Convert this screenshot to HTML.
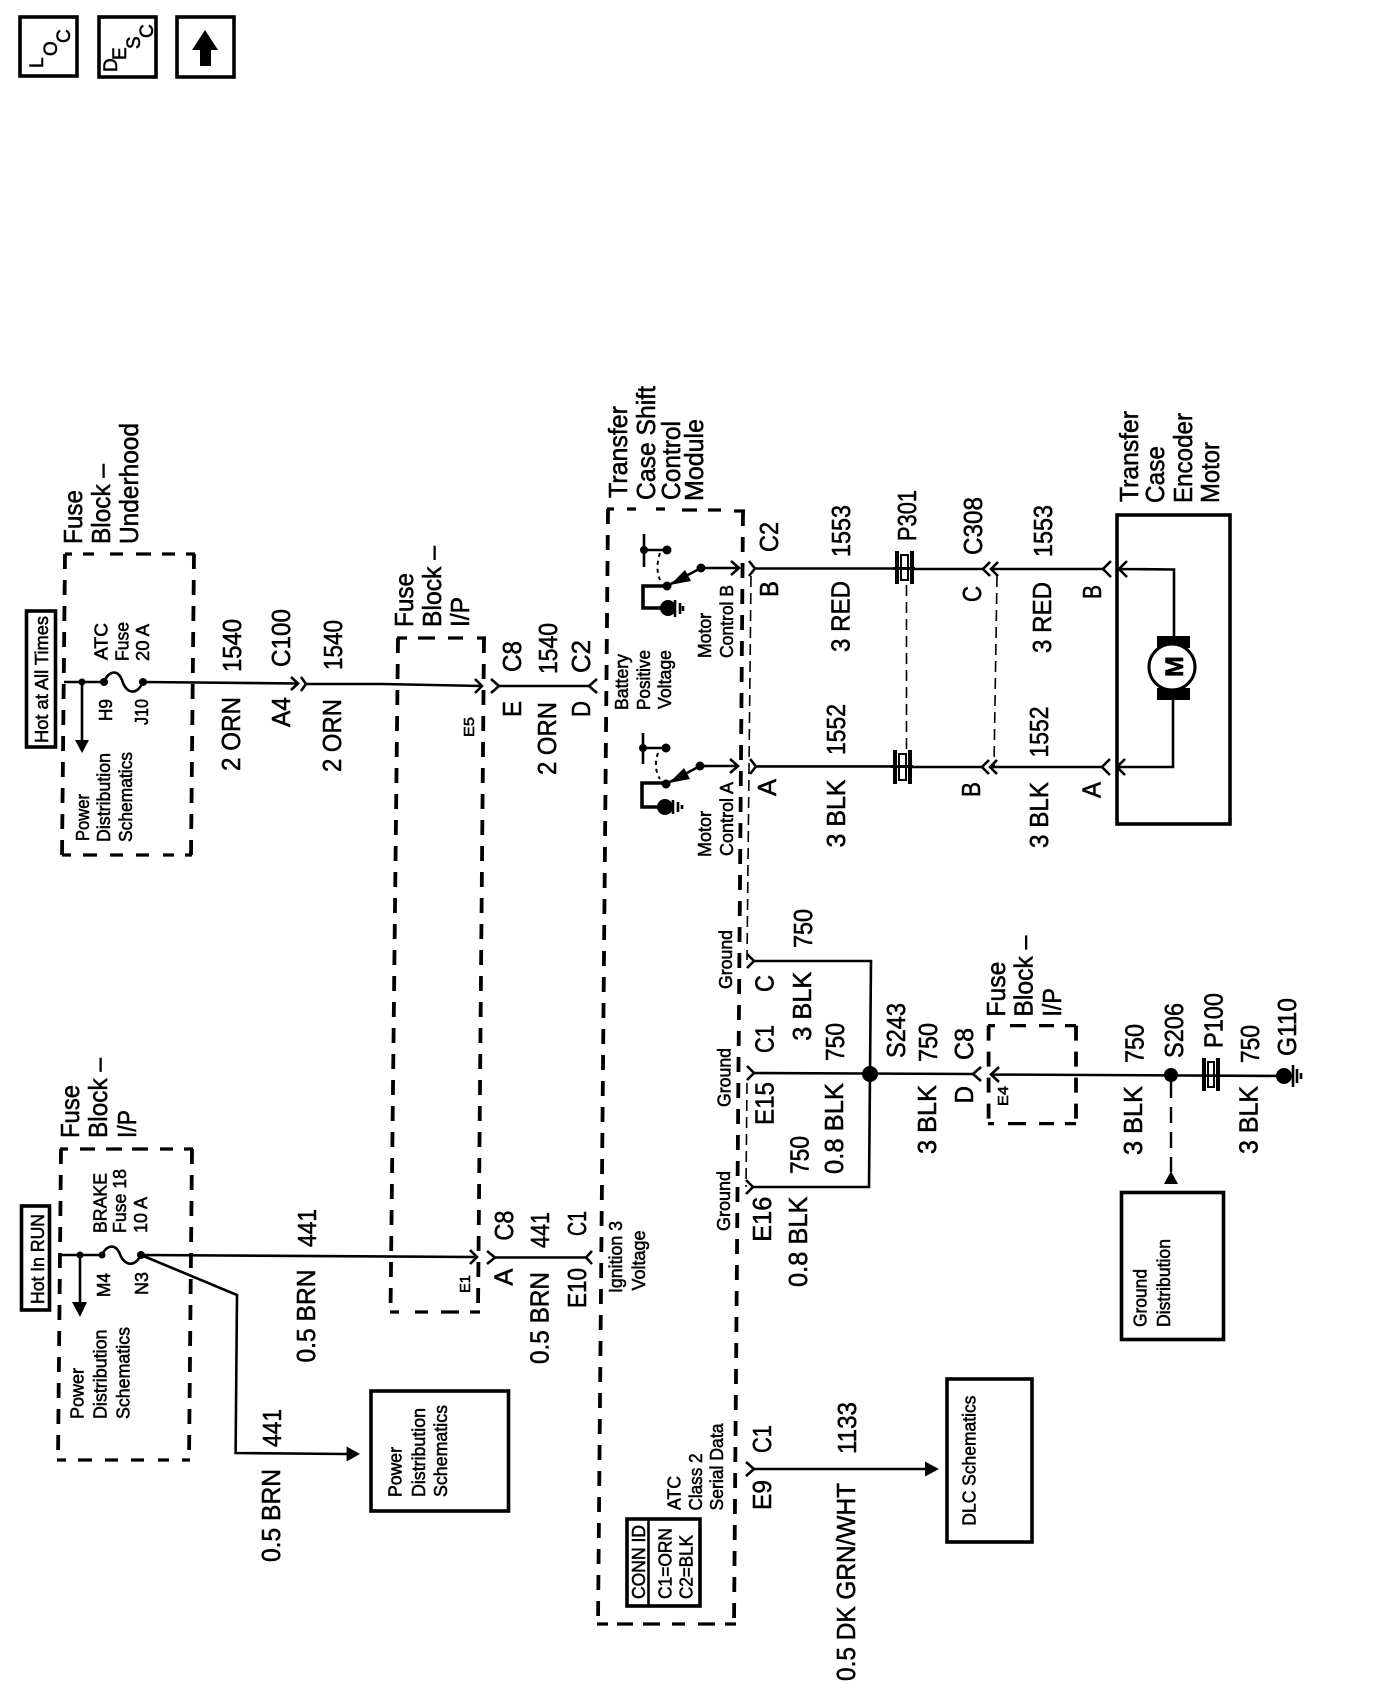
<!DOCTYPE html>
<html><head><meta charset="utf-8"><style>
html,body{margin:0;padding:0;background:#fff}
svg{display:block}
text{font-family:"Liberation Sans",sans-serif;fill:#000;stroke:#000;stroke-width:.55}
.a{font-size:26px}.b{font-size:18.5px}.c{font-size:15px}.d{font-size:19px}
.w{fill:none;stroke:#000;stroke-width:2.6}
.t{fill:none;stroke:#000;stroke-width:2.2}
.k{fill:none;stroke:#000;stroke-width:3.6}
.h{fill:none;stroke:#000;stroke-width:3.8;stroke-dasharray:15 11}
.s{fill:none;stroke:#000;stroke-width:3.2}
.n{fill:none;stroke:#000;stroke-width:1.6;stroke-dasharray:11 6}
</style></head><body>
<svg width="1376" height="1688" viewBox="0 0 1376 1688" xmlns="http://www.w3.org/2000/svg">
<rect width="1376" height="1688" fill="#fff"/>
<!-- top buttons -->
<rect class="k" x="20" y="17" width="57" height="59"/>
<rect class="k" x="99" y="17" width="57" height="60"/>
<rect class="k" x="177" y="17" width="57" height="60"/>
<polygon points="205,30 218,50 211,50 211,66 200,66 200,50 192,50"/>
<text class="d" transform="translate(43 68) rotate(-90)">L</text>
<text class="d" transform="translate(57 56) rotate(-90)">O</text>
<text class="d" transform="translate(70 43) rotate(-90)">C</text>
<text class="d" transform="translate(117 72) rotate(-90)">D</text>
<text class="d" transform="translate(126 60) rotate(-90)">E</text>
<text class="d" transform="translate(140 49) rotate(-90)">S</text>
<text class="d" transform="translate(153 38) rotate(-90)">C</text>

<!-- dashed boxes: Fuse Block Underhood -->
<path class="s" d="M65,554h7 M83,554h11 M110,554h13 M136,554h15 M162,554h13 M186,554h9"/>
<path class="s" d="M62,855h9 M83,855h14 M110,855h13 M136,855h13 M163,855h11 M185,855h7"/>
<path class="h" d="M65,554 L62,855"/>
<path class="h" d="M194,554 L191,855"/>
<!-- Fuse Block I/P lower -->
<path class="s" d="M60,1149h8 M80,1149h15 M106,1149h16 M132,1149h16 M160,1149h13 M184,1149h9"/>
<path class="s" d="M57,1460h9 M78,1460h14 M105,1460h13 M131,1460h13 M158,1460h11 M182,1460h8"/>
<path class="h" d="M61,1149 L58,1460"/>
<path class="h" d="M192,1149 L189,1460"/>
<!-- Fuse Block I/P upper -->
<path class="s" d="M397,638h10 M418,638h17 M448,638h15 M477,638h9"/>
<path class="s" d="M390,1312h9 M415,1312h13 M441,1312h18 M470,1312h10"/>
<path class="h" d="M398,638 L390.500,1312"/>
<path class="h" d="M484,638 L478,1312"/>
<!-- Module -->
<path class="s" d="M607,509h7 M627,509h9 M656,509h9 M682,510h15 M708,510h13 M734,511h11"/>
<path class="s" d="M597,1624h11 M617,1624h16 M643,1624h17 M672,1624h13 M698,1624h17 M725,1624h11"/>
<path class="h" d="M608,509 L598,1624"/>
<path class="h" d="M743,511 L734,1624"/>
<!-- Fuse Block I/P E4 -->
<path class="s" d="M988,1025.600h7 M1010,1025.600h16 M1039,1025.600h15 M1065,1025.600h11"/>
<path class="s" d="M988,1123.600h6 M1008,1123.600h18 M1039,1123.600h15 M1065,1123.600h11"/>
<path class="h" d="M988.600,1025.600 L988.600,1123.600"/>
<path class="h" d="M1076,1025.600 L1076,1123.600"/>

<!-- thin shells -->
<path class="n" d="M751,576 L747,960"/>
<path class="n" d="M747,1083 L746,1187"/>
<path class="n" d="M906.500,585 L906.500,750"/>
<path class="n" d="M997,576 L994,767"/>

<!-- fuse 1540 row -->
<path class="w" d="M64,682 L104,682 C108,672 117,668 122,680 C126,694 137,696 143,682 L298,683.500"/>
<path class="w" d="M82,682 L82,742"/>
<polygon points="75,740 89,740 82,753"/>
<circle cx="82" cy="682" r="3.500"/><circle cx="104" cy="682" r="4"/><circle cx="143" cy="682" r="4"/>
<path class="w" d="M291,677 L298,683.500 L291,690"/>
<path class="w" d="M301,677 L306,684 L301,691"/>
<path class="w" d="M306,684 L382,684 L482,686"/>
<path class="w" d="M475,679 L482,686 L475,693"/>
<path class="w" d="M491,679 L499,686 L491,693 M499,686 L589,686 L597,679 M589,686 L597,693"/>

<!-- brake row -->
<path class="w" d="M60,1255 L102,1255 C106,1246 114,1243 119,1252 C124,1266 134,1268 141,1255 L477,1257"/>
<path class="w" d="M80,1255 L80,1305"/>
<polygon points="72,1302 87,1302 80,1317"/>
<circle cx="80" cy="1255" r="3.500"/><circle cx="102" cy="1255" r="3.500"/><circle cx="141" cy="1255" r="4"/>
<path class="w" d="M470,1250 L477,1257 L470,1264"/>
<path class="w" d="M487,1251 L495,1257.500 L487,1264 M495,1257.500 L586,1257.500 L592,1251 M586,1257.500 L592,1264"/>
<path class="w" d="M141,1255 L237,1295 L235.600,1453 L347,1454"/>
<polygon points="346.600,1446.500 360,1454 346.600,1461.500"/>
<rect class="k" x="371" y="1391" width="137.500" height="120"/>

<!-- module switches -->
<path class="w" d="M644,534 L644,567 M644,550 L667,550"/>
<circle cx="644" cy="550" r="4"/><circle cx="667" cy="550" r="4.500"/>
<path d="M660,553 Q655,568 660,580" fill="none" stroke="#000" stroke-width="2" stroke-dasharray="4 4"/>
<path class="w" d="M667,586 L701,568 L738,568"/>
<polygon points="670,585 685,570 691,581"/>
<circle cx="667" cy="586" r="4.500"/><circle cx="701" cy="568" r="4.500"/>
<path class="w" d="M731,561 L739,568 L731,575"/>
<path class="k" d="M667,586 L643,586 L643,608 L662,608"/>
<circle cx="668" cy="608" r="8"/>
<path class="w" d="M675,600 L675,617 M680,603 L680,614 M683,606 L683,611"/>

<path class="w" d="M643,733 L643,764 M643,748 L666,748"/>
<circle cx="643" cy="748" r="4"/><circle cx="666" cy="748" r="4.500"/>
<path d="M658,753 Q653,768 660,779" fill="none" stroke="#000" stroke-width="2" stroke-dasharray="4 4"/>
<path class="w" d="M666,784 L700,766 L737,766"/>
<polygon points="669,783 684,768 690,779"/>
<circle cx="666" cy="784" r="4.500"/><circle cx="700" cy="766" r="4.500"/>
<path class="w" d="M730,759 L738,766 L730,773"/>
<path class="k" d="M666,783 L642,783 L642,807 L660,807"/>
<circle cx="665" cy="807" r="8"/>
<path class="w" d="M673,800 L673,814 M678,802 L678,812 M682,805 L682,809"/>

<!-- B row -->
<path class="w" d="M749,561 L755,568.500 L749,576 M755,568.500 L896,568.500"/>
<path class="w" d="M914,569 L983,569"/>
<path class="w" d="M990,562 L983,569 L990,576 M998,562 L991,569 L998,576 M991,569 L1103,569"/>
<path class="w" d="M1111,561 L1103,569 L1111,577"/>
<path class="w" d="M1127,561 L1119,569 L1127,577 M1119,569 L1174,569.500 L1174,636"/>
<!-- A row -->
<path class="w" d="M750,759 L756,766.400 L750,774 M756,766.400 L894,766.400"/>
<path class="w" d="M912,767 L982,767"/>
<path class="w" d="M989,760 L982,767 L989,774 M997,760 L990,767 L997,774 M990,767 L1102,767"/>
<path class="w" d="M1110,759 L1102,767 L1110,775"/>
<path class="w" d="M1125,759 L1117,767 L1125,775 M1117,767 L1173,767 L1173,700"/>
<!-- plugs -->
<rect x="895" y="551" width="4" height="33"/><rect x="910" y="551" width="4" height="33"/>
<rect x="901" y="555" width="7" height="25" fill="none" stroke="#000" stroke-width="2"/>
<rect x="893" y="567" width="22" height="3"/>
<rect x="893" y="750" width="4" height="34"/><rect x="908" y="750" width="4" height="34"/>
<rect x="899" y="754" width="7" height="26" fill="none" stroke="#000" stroke-width="2"/>
<rect x="891" y="765" width="22" height="3"/>
<rect x="1202" y="1058" width="4" height="33"/><rect x="1216" y="1058" width="4" height="33"/>
<rect x="1208" y="1062" width="6" height="25" fill="none" stroke="#000" stroke-width="2"/>

<!-- motor -->
<rect class="k" x="1117" y="515" width="113" height="309"/>
<rect x="1157" y="636" width="33" height="12"/><rect x="1157" y="688" width="33" height="12"/>
<circle cx="1172" cy="667" r="23" fill="#fff" stroke="#000" stroke-width="3"/>
<text transform="translate(1183 677) rotate(-90)" style="font-size:25px;font-weight:bold">M</text>

<!-- ground wiring -->
<path class="w" d="M747,954 L754,961 L747,968 M754,961 L871,961 L869,1187 L753,1187"/>
<path class="w" d="M746,1180 L753,1187 L746,1194"/>
<path class="w" d="M747,1066 L754,1073 L747,1080 M754,1073 L973,1074"/>
<path class="w" d="M973,1074 L981,1067 M973,1074 L981,1081"/>
<path class="w" d="M999,1067 L991,1074.500 L999,1082 M991,1074.500 L1293,1076"/>
<circle cx="870" cy="1074" r="8"/><circle cx="1171" cy="1075" r="7"/><circle cx="1284" cy="1076" r="8"/>
<path class="w" d="M1293,1065 L1293,1087 M1297,1069 L1297,1083 M1301,1073 L1301,1079"/>
<path d="M1171,1082 L1171,1172" fill="none" stroke="#000" stroke-width="2.400" stroke-dasharray="16 9"/>
<polygon points="1171,1171 1178,1184 1164,1184"/>
<rect class="k" x="1121.500" y="1192.500" width="102" height="147"/>
<!-- DLC -->
<path class="w" d="M746,1462 L754,1469 L746,1476 M754,1469 L926,1469"/>
<polygon points="925,1461.500 939,1469 925,1476.500"/>
<rect class="k" x="947" y="1379" width="85" height="163"/>
<!-- conn id -->
<rect class="k" x="627" y="1519" width="73" height="87"/>
<path class="w" d="M648.500,1519 L648.500,1606"/>
<rect class="k" x="26.500" y="611" width="29" height="136"/>
<rect class="k" x="21.500" y="1206" width="28" height="104"/>

<!-- labels -->
<g class="a">
<text transform="translate(82 544) rotate(-90)" textLength="54" lengthAdjust="spacingAndGlyphs">Fuse</text>
<text transform="translate(110 544) rotate(-90)" textLength="80" lengthAdjust="spacingAndGlyphs">Block –</text>
<text transform="translate(138 544) rotate(-90)" textLength="121" lengthAdjust="spacingAndGlyphs">Underhood</text>
<text transform="translate(241 672) rotate(-90)" textLength="53" lengthAdjust="spacingAndGlyphs">1540</text>
<text transform="translate(240 771) rotate(-90)" textLength="74" lengthAdjust="spacingAndGlyphs">2 ORN</text>
<text transform="translate(290 667) rotate(-90)" textLength="58" lengthAdjust="spacingAndGlyphs">C100</text>
<text transform="translate(290 727) rotate(-90)" textLength="30" lengthAdjust="spacingAndGlyphs">A4</text>
<text transform="translate(342 670) rotate(-90)" textLength="50" lengthAdjust="spacingAndGlyphs">1540</text>
<text transform="translate(341 772) rotate(-90)" textLength="73" lengthAdjust="spacingAndGlyphs">2 ORN</text>
<text transform="translate(413 627) rotate(-90)" textLength="54" lengthAdjust="spacingAndGlyphs">Fuse</text>
<text transform="translate(441 627) rotate(-90)" textLength="81" lengthAdjust="spacingAndGlyphs">Block –</text>
<text transform="translate(469 627) rotate(-90)" textLength="30" lengthAdjust="spacingAndGlyphs">I/P</text>
<text transform="translate(521 717) rotate(-90)" textLength="16" lengthAdjust="spacingAndGlyphs">E</text>
<text transform="translate(521 672) rotate(-90)" textLength="31" lengthAdjust="spacingAndGlyphs">C8</text>
<text transform="translate(557 674) rotate(-90)" textLength="51" lengthAdjust="spacingAndGlyphs">1540</text>
<text transform="translate(556 775) rotate(-90)" textLength="73" lengthAdjust="spacingAndGlyphs">2 ORN</text>
<text transform="translate(590 673) rotate(-90)" textLength="33" lengthAdjust="spacingAndGlyphs">C2</text>
<text transform="translate(590 717) rotate(-90)" textLength="16" lengthAdjust="spacingAndGlyphs">D</text>
<text transform="translate(627 498) rotate(-90)" textLength="92" lengthAdjust="spacingAndGlyphs">Transfer</text>
<text transform="translate(655 500) rotate(-90)" textLength="114" lengthAdjust="spacingAndGlyphs">Case Shift</text>
<text transform="translate(680 500) rotate(-90)" textLength="79" lengthAdjust="spacingAndGlyphs">Control</text>
<text transform="translate(703 501) rotate(-90)" textLength="82" lengthAdjust="spacingAndGlyphs">Module</text>
<text transform="translate(778 552) rotate(-90)" textLength="30" lengthAdjust="spacingAndGlyphs">C2</text>
<text transform="translate(778 597) rotate(-90)" textLength="16" lengthAdjust="spacingAndGlyphs">B</text>
<text transform="translate(776 796) rotate(-90)" textLength="17" lengthAdjust="spacingAndGlyphs">A</text>
<text transform="translate(850 557) rotate(-90)" textLength="52" lengthAdjust="spacingAndGlyphs">1553</text>
<text transform="translate(849.500 652) rotate(-90)" textLength="71" lengthAdjust="spacingAndGlyphs">3 RED</text>
<text transform="translate(845 755) rotate(-90)" textLength="51" lengthAdjust="spacingAndGlyphs">1552</text>
<text transform="translate(845 847.500) rotate(-90)" textLength="68" lengthAdjust="spacingAndGlyphs">3 BLK</text>
<text transform="translate(916 541) rotate(-90)" textLength="51" lengthAdjust="spacingAndGlyphs">P301</text>
<text transform="translate(982 555) rotate(-90)" textLength="58" lengthAdjust="spacingAndGlyphs">C308</text>
<text transform="translate(981 602) rotate(-90)" textLength="16" lengthAdjust="spacingAndGlyphs">C</text>
<text transform="translate(980 797) rotate(-90)" textLength="15" lengthAdjust="spacingAndGlyphs">B</text>
<text transform="translate(1052 557) rotate(-90)" textLength="52" lengthAdjust="spacingAndGlyphs">1553</text>
<text transform="translate(1051 653) rotate(-90)" textLength="71" lengthAdjust="spacingAndGlyphs">3 RED</text>
<text transform="translate(1048 757.500) rotate(-90)" textLength="51" lengthAdjust="spacingAndGlyphs">1552</text>
<text transform="translate(1048 848) rotate(-90)" textLength="66" lengthAdjust="spacingAndGlyphs">3 BLK</text>
<text transform="translate(1101 599) rotate(-90)" textLength="14" lengthAdjust="spacingAndGlyphs">B</text>
<text transform="translate(1100.500 798) rotate(-90)" textLength="16" lengthAdjust="spacingAndGlyphs">A</text>
<text transform="translate(1138 502) rotate(-90)" textLength="91" lengthAdjust="spacingAndGlyphs">Transfer</text>
<text transform="translate(1164 503) rotate(-90)" textLength="57" lengthAdjust="spacingAndGlyphs">Case</text>
<text transform="translate(1192 503) rotate(-90)" textLength="90" lengthAdjust="spacingAndGlyphs">Encoder</text>
<text transform="translate(1219 503) rotate(-90)" textLength="61" lengthAdjust="spacingAndGlyphs">Motor</text>

<text transform="translate(79 1138) rotate(-90)" textLength="53" lengthAdjust="spacingAndGlyphs">Fuse</text>
<text transform="translate(107 1138) rotate(-90)" textLength="80" lengthAdjust="spacingAndGlyphs">Block –</text>
<text transform="translate(136 1138) rotate(-90)" textLength="28" lengthAdjust="spacingAndGlyphs">I/P</text>
<text transform="translate(316 1247) rotate(-90)" textLength="38" lengthAdjust="spacingAndGlyphs">441</text>
<text transform="translate(315 1362.500) rotate(-90)" textLength="93" lengthAdjust="spacingAndGlyphs">0.5 BRN</text>
<text transform="translate(281 1447) rotate(-90)" textLength="38" lengthAdjust="spacingAndGlyphs">441</text>
<text transform="translate(280 1562) rotate(-90)" textLength="93" lengthAdjust="spacingAndGlyphs">0.5 BRN</text>
<text transform="translate(513 1240.600) rotate(-90)" textLength="30" lengthAdjust="spacingAndGlyphs">C8</text>
<text transform="translate(512.500 1285.600) rotate(-90)" textLength="17" lengthAdjust="spacingAndGlyphs">A</text>
<text transform="translate(549 1248) rotate(-90)" textLength="36" lengthAdjust="spacingAndGlyphs">441</text>
<text transform="translate(548.500 1364) rotate(-90)" textLength="92" lengthAdjust="spacingAndGlyphs">0.5 BRN</text>
<text transform="translate(586 1236) rotate(-90)" textLength="25" lengthAdjust="spacingAndGlyphs">C1</text>
<text transform="translate(586 1308) rotate(-90)" textLength="40" lengthAdjust="spacingAndGlyphs">E10</text>

<text transform="translate(773.600 992) rotate(-90)" textLength="17" lengthAdjust="spacingAndGlyphs">C</text>
<text transform="translate(773.600 1053) rotate(-90)" textLength="28" lengthAdjust="spacingAndGlyphs">C1</text>
<text transform="translate(773.600 1125) rotate(-90)" textLength="43" lengthAdjust="spacingAndGlyphs">E15</text>
<text transform="translate(771 1241.700) rotate(-90)" textLength="45" lengthAdjust="spacingAndGlyphs">E16</text>
<text transform="translate(812 948) rotate(-90)" textLength="39" lengthAdjust="spacingAndGlyphs">750</text>
<text transform="translate(811 1040.700) rotate(-90)" textLength="69" lengthAdjust="spacingAndGlyphs">3 BLK</text>
<text transform="translate(844 1061) rotate(-90)" textLength="38" lengthAdjust="spacingAndGlyphs">750</text>
<text transform="translate(843 1174) rotate(-90)" textLength="91" lengthAdjust="spacingAndGlyphs">0.8 BLK</text>
<text transform="translate(808.700 1174) rotate(-90)" textLength="38" lengthAdjust="spacingAndGlyphs">750</text>
<text transform="translate(807 1287) rotate(-90)" textLength="90.500" lengthAdjust="spacingAndGlyphs">0.8 BLK</text>
<text transform="translate(905 1058) rotate(-90)" textLength="55" lengthAdjust="spacingAndGlyphs">S243</text>
<text transform="translate(937 1062) rotate(-90)" textLength="39" lengthAdjust="spacingAndGlyphs">750</text>
<text transform="translate(936 1154) rotate(-90)" textLength="69" lengthAdjust="spacingAndGlyphs">3 BLK</text>
<text transform="translate(973 1060) rotate(-90)" textLength="32" lengthAdjust="spacingAndGlyphs">C8</text>
<text transform="translate(973 1103.500) rotate(-90)" textLength="17.500" lengthAdjust="spacingAndGlyphs">D</text>
<text transform="translate(1005 1016.600) rotate(-90)" textLength="55" lengthAdjust="spacingAndGlyphs">Fuse</text>
<text transform="translate(1032.500 1016.600) rotate(-90)" textLength="81" lengthAdjust="spacingAndGlyphs">Block –</text>
<text transform="translate(1061 1016.600) rotate(-90)" textLength="28.500" lengthAdjust="spacingAndGlyphs">I/P</text>
<text transform="translate(1143.500 1063) rotate(-90)" textLength="39" lengthAdjust="spacingAndGlyphs">750</text>
<text transform="translate(1142 1155) rotate(-90)" textLength="69" lengthAdjust="spacingAndGlyphs">3 BLK</text>
<text transform="translate(1183 1058) rotate(-90)" textLength="55" lengthAdjust="spacingAndGlyphs">S206</text>
<text transform="translate(1222.500 1048) rotate(-90)" textLength="55" lengthAdjust="spacingAndGlyphs">P100</text>
<text transform="translate(1259 1063) rotate(-90)" textLength="38" lengthAdjust="spacingAndGlyphs">750</text>
<text transform="translate(1257.500 1154) rotate(-90)" textLength="68" lengthAdjust="spacingAndGlyphs">3 BLK</text>
<text transform="translate(1296 1056) rotate(-90)" textLength="58" lengthAdjust="spacingAndGlyphs">G110</text>
<text transform="translate(771 1510) rotate(-90)" textLength="30" lengthAdjust="spacingAndGlyphs">E9</text>
<text transform="translate(771 1453) rotate(-90)" textLength="28" lengthAdjust="spacingAndGlyphs">C1</text>
<text transform="translate(856 1454) rotate(-90)" textLength="52" lengthAdjust="spacingAndGlyphs">1133</text>
<text transform="translate(855 1681) rotate(-90)" textLength="198" lengthAdjust="spacingAndGlyphs">0.5 DK GRN/WHT</text>
</g>
<g class="b">
<text transform="translate(48 743) rotate(-90)" textLength="127" lengthAdjust="spacingAndGlyphs">Hot at All Times</text>
<text transform="translate(107.500 660) rotate(-90)" textLength="37" lengthAdjust="spacingAndGlyphs">ATC</text>
<text transform="translate(128.500 661) rotate(-90)" textLength="39" lengthAdjust="spacingAndGlyphs">Fuse</text>
<text transform="translate(149 661) rotate(-90)" textLength="37" lengthAdjust="spacingAndGlyphs">20 A</text>
<text transform="translate(112 721) rotate(-90)" textLength="22" lengthAdjust="spacingAndGlyphs">H9</text>
<text transform="translate(148 725) rotate(-90)" textLength="26" lengthAdjust="spacingAndGlyphs">J10</text>
<text transform="translate(89 841) rotate(-90)" textLength="47" lengthAdjust="spacingAndGlyphs">Power</text>
<text transform="translate(110 842) rotate(-90)" textLength="89" lengthAdjust="spacingAndGlyphs">Distribution</text>
<text transform="translate(132 842) rotate(-90)" textLength="90" lengthAdjust="spacingAndGlyphs">Schematics</text>
<text transform="translate(628 710) rotate(-90)" textLength="56" lengthAdjust="spacingAndGlyphs">Battery</text>
<text transform="translate(650 710) rotate(-90)" textLength="60" lengthAdjust="spacingAndGlyphs">Positive</text>
<text transform="translate(671 709) rotate(-90)" textLength="59" lengthAdjust="spacingAndGlyphs">Voltage</text>
<text transform="translate(711 658) rotate(-90)" textLength="45" lengthAdjust="spacingAndGlyphs">Motor</text>
<text transform="translate(733 658) rotate(-90)" textLength="73" lengthAdjust="spacingAndGlyphs">Control B</text>
<text transform="translate(711 857) rotate(-90)" textLength="46" lengthAdjust="spacingAndGlyphs">Motor</text>
<text transform="translate(733 856) rotate(-90)" textLength="74" lengthAdjust="spacingAndGlyphs">Control A</text>
<text transform="translate(44 1304) rotate(-90)" textLength="90" lengthAdjust="spacingAndGlyphs">Hot In RUN</text>
<text transform="translate(106.600 1233) rotate(-90)" textLength="60" lengthAdjust="spacingAndGlyphs">BRAKE</text>
<text transform="translate(126 1233) rotate(-90)" textLength="64" lengthAdjust="spacingAndGlyphs">Fuse 18</text>
<text transform="translate(147 1233) rotate(-90)" textLength="36" lengthAdjust="spacingAndGlyphs">10 A</text>
<text transform="translate(110 1297) rotate(-90)" textLength="24" lengthAdjust="spacingAndGlyphs">M4</text>
<text transform="translate(148 1295) rotate(-90)" textLength="23" lengthAdjust="spacingAndGlyphs">N3</text>
<text transform="translate(83.400 1419) rotate(-90)" textLength="51" lengthAdjust="spacingAndGlyphs">Power</text>
<text transform="translate(106.600 1419) rotate(-90)" textLength="89.500" lengthAdjust="spacingAndGlyphs">Distribution</text>
<text transform="translate(129.400 1419) rotate(-90)" textLength="92" lengthAdjust="spacingAndGlyphs">Schematics</text>
<text transform="translate(401.500 1497) rotate(-90)" textLength="50" lengthAdjust="spacingAndGlyphs">Power</text>
<text transform="translate(425 1497) rotate(-90)" textLength="89" lengthAdjust="spacingAndGlyphs">Distribution</text>
<text transform="translate(447 1497) rotate(-90)" textLength="92" lengthAdjust="spacingAndGlyphs">Schematics</text>
<text transform="translate(622 1293) rotate(-90)" textLength="72" lengthAdjust="spacingAndGlyphs">Ignition 3</text>
<text transform="translate(645 1290.500) rotate(-90)" textLength="60" lengthAdjust="spacingAndGlyphs">Voltage</text>
<text transform="translate(680.700 1510) rotate(-90)" textLength="34" lengthAdjust="spacingAndGlyphs">ATC</text>
<text transform="translate(702 1510.500) rotate(-90)" textLength="57" lengthAdjust="spacingAndGlyphs">Class 2</text>
<text transform="translate(723 1510.500) rotate(-90)" textLength="87" lengthAdjust="spacingAndGlyphs">Serial Data</text>
<text transform="translate(645 1599) rotate(-90)" textLength="74" lengthAdjust="spacingAndGlyphs">CONN ID</text>
<text transform="translate(671.700 1599) rotate(-90)" textLength="71" lengthAdjust="spacingAndGlyphs">C1=ORN</text>
<text transform="translate(692.700 1599) rotate(-90)" textLength="64" lengthAdjust="spacingAndGlyphs">C2=BLK</text>
<text transform="translate(732 989) rotate(-90)" textLength="59" lengthAdjust="spacingAndGlyphs">Ground</text>
<text transform="translate(730.600 1107) rotate(-90)" textLength="59" lengthAdjust="spacingAndGlyphs">Ground</text>
<text transform="translate(730 1231) rotate(-90)" textLength="60" lengthAdjust="spacingAndGlyphs">Ground</text>
<text transform="translate(1146.500 1327) rotate(-90)" textLength="58" lengthAdjust="spacingAndGlyphs">Ground</text>
<text transform="translate(1170 1327) rotate(-90)" textLength="88" lengthAdjust="spacingAndGlyphs">Distribution</text>
<text transform="translate(975.400 1525.600) rotate(-90)" textLength="130" lengthAdjust="spacingAndGlyphs">DLC Schematics</text>
</g>
<g class="c">
<text transform="translate(474 737) rotate(-90)" textLength="20" lengthAdjust="spacingAndGlyphs">E5</text>
<text transform="translate(470 1293) rotate(-90)" textLength="18" lengthAdjust="spacingAndGlyphs">E1</text>
<text transform="translate(1008 1106) rotate(-90)" textLength="20" lengthAdjust="spacingAndGlyphs">E4</text>
</g>
</svg>
</body></html>
